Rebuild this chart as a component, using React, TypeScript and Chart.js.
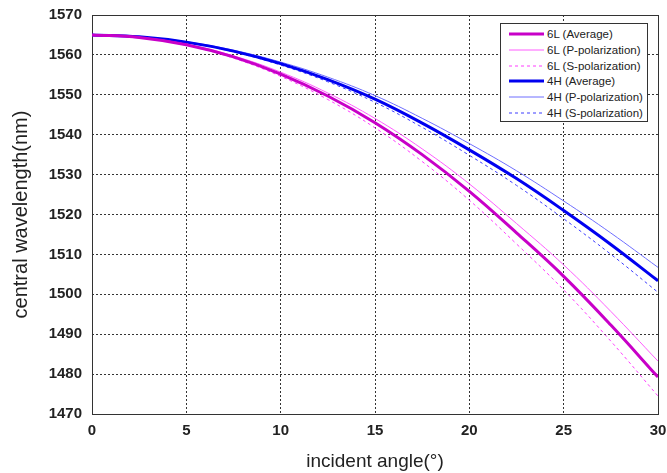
import React, { useEffect, useRef } from "react";
import { Chart, registerables } from "chart.js";

Chart.register(...registerables);

const angles = [0, 2.5, 5, 7.5, 10, 12.5, 15, 17.5, 20, 22.5, 25, 27.5, 30];

const l6Average = [1565, 1564.39, 1562.55, 1559.5, 1555.2, 1549.7, 1543.0, 1535.0, 1525.8, 1515.4, 1504.5, 1492.3, 1479.25];
const l6PPol = [1565, 1564.42, 1562.67, 1559.77, 1555.68, 1550.45, 1544.07, 1536.45, 1527.67, 1517.74, 1507.36, 1495.71, 1483.25];
const l6SPol = [1565, 1564.35, 1562.41, 1559.18, 1554.63, 1548.81, 1541.73, 1533.28, 1523.58, 1512.62, 1501.11, 1488.25, 1474.5];

const h4Average = [1565, 1564.55, 1563.2, 1560.95, 1557.8, 1553.8, 1548.9, 1542.9, 1536.2, 1529.0, 1521.0, 1512.5, 1503.4];
const h4PPol = [1565, 1564.58, 1563.3, 1561.18, 1558.2, 1554.43, 1549.8, 1544.11, 1537.77, 1530.96, 1523.39, 1515.36, 1506.75];
const h4SPol = [1565, 1564.53, 1563.11, 1560.75, 1557.45, 1553.26, 1548.12, 1541.85, 1534.84, 1527.3, 1518.93, 1510.03, 1500.5];

const seriesLabels = [
  "6L (Average)",
  "6L (P-polarization)",
  "6L (S-polarization)",
  "4H (Average)",
  "4H (P-polarization)",
  "4H (S-polarization)",
];
const seriesColors = ["#c800c8", "#ff5cff", "#ff3cff", "#0000f0", "#6e6eff", "#3c3cff"];
const seriesWidths = [3, 1, 1, 3, 1, 1];
const seriesDashes: number[][] = [[], [], [3, 3], [], [], [3, 3]];
const seriesValues = [l6Average, l6PPol, l6SPol, h4Average, h4PPol, h4SPol];

const xTitle = "incident angle(°)";
const yTitle = "central wavelength(nm)";
const FONT = "'Liberation Sans', Arial, sans-serif";

const framePlugin = {
  id: "frame",
  beforeDatasetsDraw(chart: any) {
    const { ctx, chartArea } = chart;
    ctx.save();
    ctx.strokeStyle = "#333";
    ctx.lineWidth = 1;
    ctx.setLineDash([]);
    ctx.strokeRect(
      Math.round(chartArea.left) + 0.5,
      Math.round(chartArea.top) + 0.5,
      Math.round(chartArea.right - chartArea.left),
      Math.round(chartArea.bottom - chartArea.top)
    );
    ctx.restore();
  },
};

export default function App() {
  const ref = useRef<HTMLCanvasElement | null>(null);

  useEffect(() => {
    if (!ref.current) return;
    const datasets = seriesValues.map((vals, i) => ({
      label: seriesLabels[i],
      data: angles.map((a, j) => ({ x: a, y: vals[j] })),
      borderColor: seriesColors[i],
      backgroundColor: seriesColors[i],
      borderWidth: seriesWidths[i],
      borderDash: seriesDashes[i],
      pointRadius: 0,
      tension: 0.4,
      fill: false,
    }));
    const chart = new Chart(ref.current, {
      type: "line",
      data: { datasets },
      plugins: [framePlugin],
      options: {
        animation: false,
        responsive: false,
        maintainAspectRatio: false,
        layout: { padding: { left: 0, top: 15, right: 9, bottom: 0 } },
        plugins: { legend: { display: false }, tooltip: { enabled: false } },
        scales: {
          x: {
            type: "linear",
            min: 0,
            max: 30,
            ticks: {
              stepSize: 5,
              padding: 8,
              color: "#222",
              font: { family: FONT, size: 15, weight: "bold" },
              maxRotation: 0,
              callback: (v: any) => String(v),
            },
            grid: {
              color: "#333",
              lineWidth: 1,
              drawTicks: false,
            },
            border: { display: false, dash: [2, 2] },
            title: {
              display: true,
              text: xTitle,
              color: "#222",
              font: { family: FONT, size: 19 },
              padding: { top: 0, bottom: 0 },
            },
            afterFit: (s: any) => {
              s.height = 59;
              s.paddingLeft = 0;
              s.paddingRight = 0;
            },
          },
          y: {
            type: "linear",
            min: 1470,
            max: 1570,
            ticks: {
              stepSize: 10,
              padding: 10,
              color: "#222",
              font: { family: FONT, size: 15, weight: "bold" },
              callback: (v: any) => String(v),
            },
            grid: {
              color: "#333",
              lineWidth: 1,
              drawTicks: false,
            },
            border: { display: false, dash: [2, 2] },
            title: {
              display: true,
              text: yTitle,
              color: "#222",
              font: { family: FONT, size: 20 },
              padding: { top: 9, bottom: 0 },
            },
            afterFit: (s: any) => {
              s.width = 92;
              s.paddingTop = 0;
              s.paddingBottom = 0;
            },
          },
        },
      },
    });
    return () => chart.destroy();
  }, []);

  const rowTops = [10, 26, 42, 57, 73, 89];

  return (
    <div style={{ position: "fixed", left: 0, top: 0, width: 667, height: 473, background: "#fff" }}>
      <canvas ref={ref} width={667} height={473} style={{ width: 667, height: 473, display: "block" }} />
      <div
        style={{
          position: "absolute",
          left: 500,
          top: 23,
          width: 146,
          height: 97,
          border: "1px solid #333",
          background: "#fff",
          fontFamily: FONT,
          fontSize: 11.5,
          color: "#222",
        }}
      >
        {seriesLabels.map((lab, i) => (
          <div key={lab} style={{ position: "absolute", left: 0, top: rowTops[i] - 8, height: 16, width: 146 }}>
            <svg width={40} height={16} style={{ position: "absolute", left: 6, top: 0 }}>
              <line
                x1={2}
                y1={8}
                x2={37}
                y2={8}
                stroke={seriesColors[i]}
                strokeWidth={seriesWidths[i]}
                strokeDasharray={seriesDashes[i].length ? "3 3" : undefined}
              />
            </svg>
            <span style={{ position: "absolute", left: 46, top: 1, lineHeight: "14px", whiteSpace: "nowrap" }}>{lab}</span>
          </div>
        ))}
      </div>
    </div>
  );
}
